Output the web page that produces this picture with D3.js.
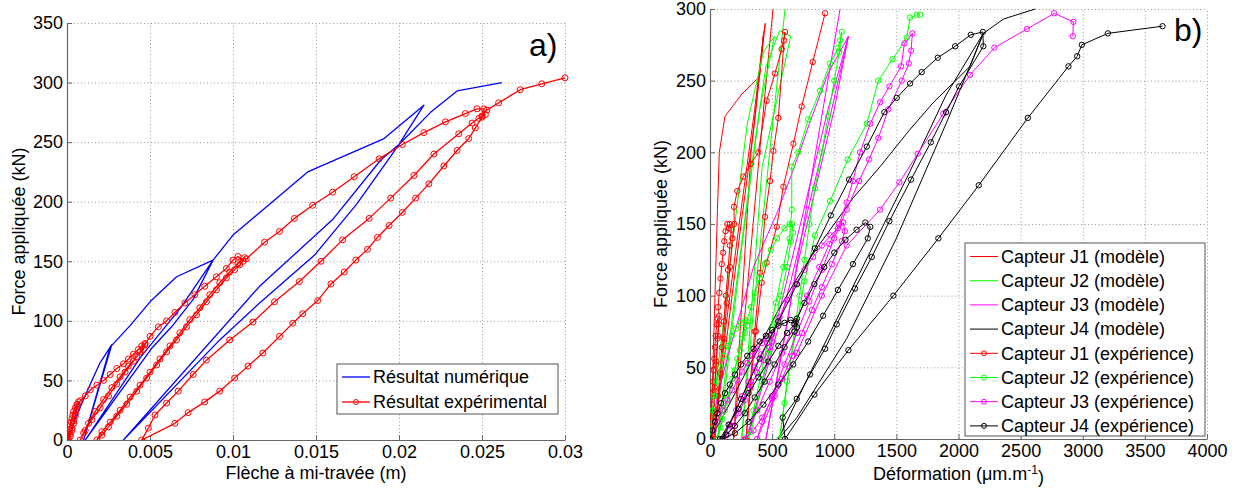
<!DOCTYPE html>
<html>
<head>
<meta charset="utf-8">
<script src="https://cdn.jsdelivr.net/npm/d3@7"></script>
<style>
  body { margin: 0; background: #fff; }
  text { font-family: Arial, "Liberation Sans", Helvetica, sans-serif; fill: #000; }
</style>
</head>
<body>
<svg id="chart" width="1237" height="490"></svg>
<script>
// ---------- panel a) : deflection at mid-span ----------
let aXTicks = [0, 0.005, 0.01, 0.015, 0.02, 0.025, 0.03]
let aYTicks = [0, 50, 100, 150, 200, 250, 300, 350]

// numerical result (blue)
let numerique = [[0,0],[0.0003,10],[0.0006,21],[0.0009,31],[0.0015,50],[0.002,65],[0.0027,80],
  [0.001,0],[0.0026,78],[0.0038,96],[0.005,116],[0.0066,137],[0.0088,151],
  [0.0076,118],[0.0063,95],[0.0051,77],[0.0011,0],[0.0044,69],[0.0068,110],[0.0088,151],
  [0.0100,172],[0.0145,225],[0.0191,253],[0.0215,281],
  [0.0199,246],[0.01745,198],[0.0149,155],[0.0116,115],[0.0092,84],[0.0034,0],
  [0.0116,129],[0.0160,185],[0.0189,235],[0.0200,248],[0.0219,275],[0.0235,293],[0.0262,300]]

// experimental result (red, circles)
let experimental = [[0,0],[0.00005,3],[0.0001,6],[0.00015,9],[0.0002,12],[0.00025,15],[0.0003,18],[0.00035,21],
  [0.0004,24],[0.0005,27],[0.0006,30],[0.0007,32],[0.0006,26],[0.0005,20],[0.0004,14],[0.0003,8],[0.0002,3],
  [0.0001,0],[0.0002,5],[0.0003,10],[0.0004,16],[0.0005,22],[0.0006,28],[0.0008,33],
  [0.0011,37],[0.0014,42],[0.0018,46],[0.0022,50],[0.0026,55],[0.003,60],[0.0034,64],[0.0037,68],
  [0.004,72],[0.0043,76],[0.0045,79],[0.0047,81],[0.0046,76],
  [0.0042,70],[0.0037,62],[0.0032,53],[0.0027,44],[0.0022,34],[0.0017,24],[0.0013,14],[0.001,6],[0.0008,0],
  [0.0011,8],[0.0015,17],[0.002,27],[0.0025,37],[0.003,47],[0.0035,57],[0.004,66],[0.0044,74],[0.0047,80],
  [0.0050,87],[0.0055,95],[0.0060,100],[0.0065,107],[0.0071,115],[0.0077,122],[0.0083,129],[0.0090,137],
  [0.0096,144],[0.0100,151],[0.0103,154],[0.0106,150],[0.0104,147],[0.0101,143],
  [0.0096,136],[0.0090,126],[0.0084,116],[0.0078,105],[0.0072,95],[0.0066,84],[0.0060,74],[0.0054,63],
  [0.0048,52],[0.0042,41],[0.0036,30],[0.0030,20],[0.0025,11],[0.0021,4],[0.0018,0],
  [0.0021,7],[0.0026,15],[0.0032,25],[0.0038,36],[0.0044,46],[0.0050,57],[0.0056,68],[0.0062,79],
  [0.0068,90],[0.0074,101],[0.0080,111],[0.0086,122],[0.0092,132],[0.0098,141],[0.0103,148],[0.0107,153],
  [0.0108,152],[0.0119,166],[0.0128,175],[0.0137,186],[0.0148,197],[0.0160,208],[0.0173,221],[0.0188,236],
  [0.0202,248],[0.0215,258],[0.0228,267],[0.0240,274],[0.0247,278],[0.0251,278],[0.0250,272],[0.0252,273],
  [0.0248,270],[0.0244,266],
  [0.0236,257],[0.0221,240],[0.0209,222],[0.0195,203],[0.0182,186],[0.0166,168],[0.0153,150],[0.0140,133],
  [0.0125,116],[0.0112,99],[0.0098,84],[0.0084,67],[0.0076,55],[0.0067,41],[0.0060,31],[0.0053,21],
  [0.0049,10],[0.0045,0],
  [0.0065,14],[0.0073,23],[0.0083,32],[0.0092,41],[0.0101,52],[0.0109,62],[0.0118,73],[0.0128,87],
  [0.0136,98],[0.0142,106],[0.0151,117],[0.0159,131],[0.0167,141],[0.0174,151],[0.0181,160],[0.0187,170],
  [0.0194,180],[0.0202,191],[0.0210,203],[0.0218,215],[0.0227,230],[0.0235,243],[0.0242,253],[0.0246,262],
  [0.0250,271],[0.0253,277],[0.0260,283],[0.0273,294],[0.0286,299],[0.0300,304]]

// ---------- panel b) : strain gauges ----------
let bXTicks = [0, 500, 1000, 1500, 2000, 2500, 3000, 3500, 4000]
let bYTicks = [0, 50, 100, 150, 200, 250, 300]

let j1Modele = [[0,0],[20,40],[40,100],[60,160],[75,200],[120,225],[250,240],[400,253],[430,282],
  [360,230],[250,160],[130,80],[30,0],[120,60],[250,150],[360,222],[430,282],[445,290],
  [330,200],[190,0],[300,105],[420,220],[507,300]]
let j2Modele = [[0,0],[50,40],[120,90],[200,150],[300,220],[430,270],[520,281],[400,230],[250,130],
  [100,20],[60,0],[200,100],[350,200],[450,260],[560,285],[650,281],[420,190],[255,0],[350,90],
  [480,200],[604,300]]
let j3Modele = [[0,0],[60,30],[150,60],[250,90],[350,120],[450,140],[550,160],[680,190],[800,220],
  [950,255],[1114,281],[900,200],[650,110],[400,30],[300,0],[450,50],[700,140],[950,230],[1114,281],
  [1000,230],[700,120],[450,0],[600,70],[850,200],[1047,300]]
let j4Modele = [[0,0],[100,15],[250,40],[400,65],[550,90],[700,112],[850,132],[1000,150],[1150,168],
  [1369,190],[1600,215],[1800,235],[2000,252],[2093,260],[2200,283],[1900,220],[1500,140],[1100,70],
  [700,15],[550,0],[800,45],[1200,115],[1600,185],[1900,240],[2200,283],[2362,293],[2617,300]]

let j1Experience = [[0,0],[5,8],[10,16],[15,24],[20,32],[25,40],[30,48],[35,56],[40,64],[45,72],[55,80],
  [62,84],[70,80],[60,70],[48,52],[36,34],[25,16],[15,0],[28,18],[40,36],[52,54],[64,72],[75,86],
  [65,92],[75,102],[85,112],[95,122],[105,130],[115,138],[125,145],[140,150],[150,147],[160,150],[172,146],
  [160,135],[145,118],[128,100],[112,82],[95,64],[80,46],[65,30],[50,15],[40,0],
  [60,20],[85,45],[110,70],[135,95],[160,120],[180,140],[195,150],[193,162],[220,173],[268,183],[330,192],
  [389,200],[456,236],[523,255],[577,272],[604,284],[596,278],
  [550,224],[510,201],[483,180],[443,155],[403,116],[360,75],[320,35],[290,0],
  [330,40],[370,75],[416,109],[456,123],[537,148],[590,176],[671,206],[738,232],[827,263],[926,297]]
let j2Experience = [[0,0],[10,10],[20,20],[35,30],[55,40],[80,50],[110,58],[140,65],[175,72],[210,77],
  [250,81],[285,83],[300,79],[280,74],[240,62],[200,48],[160,34],[120,20],[85,8],[60,0],
  [100,14],[140,28],[180,42],[220,56],[260,70],[295,82],
  [330,92],[360,102],[400,112],[440,122],[490,132],[540,140],[600,147],[640,150],[660,150],
  [670,144],[650,138],[620,120],[570,100],[520,80],[470,60],[420,40],[370,20],[330,5],[300,0],
  [350,20],[410,45],[470,70],[530,95],[590,120],[640,140],[658,160],[658,190],[711,200],[791,223],
  [886,243],[966,262],[1033,273],[1047,278],[1060,284],[1040,270],[1000,250],[950,225],[900,200],
  [845,175],[800,150],[760,125],[720,100],[680,75],[640,50],[600,25],[560,0],
  [620,40],[700,80],[760,110],[845,142],[966,166],[1109,195],[1262,220],[1355,250],[1470,265],
  [1584,280],[1610,294],[1664,296],[1691,296]]
let j3Experience = [[0,0],[30,6],[60,12],[100,20],[140,27],[180,34],[220,41],[260,47],[300,53],[340,58],
  [380,63],[420,67],[460,70],[490,72],[500,68],[480,64],
  [430,55],[380,46],[330,37],[280,27],[230,18],[180,9],[140,3],[110,0],
  [160,10],[210,20],[260,30],[310,40],[360,50],[410,59],[460,67],[500,73],
  [560,85],[620,97],[690,108],[760,118],[830,127],[900,135],[970,142],[1030,147],[1073,151],
  [1085,145],[1060,138],
  [980,122],[900,106],[820,90],[740,74],[660,58],[580,42],[500,28],[420,15],[350,6],[280,0],
  [380,20],[480,40],[580,60],[680,80],[780,100],[880,120],[960,136],[1040,150],[1100,165],[1150,180],
  [1208,200],[1290,220],[1370,235],[1444,246],[1538,260],[1565,276],[1629,283],[1618,271],[1600,262],
  [1543,250],[1436,230],[1355,210],[1280,195],[1200,180],[1100,160],[1000,140],[900,118],[800,96],
  [700,74],[600,52],[500,30],[420,12],[380,0],
  [520,30],[700,60],[900,100],[1100,135],[1369,160],[1524,179],[1672,199],[1878,227],[2093,254],
  [2289,273],[2550,286],[2770,297],[2925,291],[2920,281]]
let j4Experience = [[0,0],[20,6],[40,12],[60,18],[90,25],[120,32],[160,38],[200,45],[250,52],[300,58],
  [350,63],[400,68],[450,72],[500,76],[550,79],[600,81],[650,83],[690,82],[700,78],[680,75],
  [600,64],[520,52],[440,40],[360,29],[280,18],[200,9],[130,3],[80,0],
  [150,10],[230,21],[310,32],[390,43],[470,54],[550,65],[620,74],[680,80],[700,84],
  [760,95],[840,108],[920,120],[1000,130],[1090,139],[1180,146],[1250,151],[1290,148],[1270,140],
  [1150,122],[1030,104],[910,86],[790,68],[670,52],[550,38],[430,24],[310,12],[200,4],[100,0],
  [250,28],[400,56],[550,82],[700,108],[845,133],[972,156],[1119,181],[1262,204],[1403,228],[1503,238],
  [1610,248],[1704,256],[1833,266],[1973,274],[2099,282],[2196,284],
  [2200,274],[2005,246],[1900,228],[1777,207],[1618,181],[1444,152],[1302,127],[1167,105],[1020,80],
  [926,63],[805,45],[698,28],[585,15],[604,0],
  [840,31],[1114,62],[1476,100],[1838,140],[2163,177],[2558,224],[2885,260],[2955,267],[2993,275],
  [3202,283],[3642,288]]

let legendA = ["Résultat numérique", "Résultat expérimental"]
let legendB = ["Capteur J1 (modèle)", "Capteur J2 (modèle)", "Capteur J3 (modèle)", "Capteur J4 (modèle)",
  "Capteur J1 (expérience)", "Capteur J2 (expérience)", "Capteur J3 (expérience)", "Capteur J4 (expérience)"]

let svg = d3.select("#chart")
let fontSize = 18

// draw one panel: grid, axes, labels, series, legend
function drawPanel(p) {
    let x = d3.scaleLinear().domain(p.xDomain).range([p.left, p.right])
    let y = d3.scaleLinear().domain(p.yDomain).range([p.bottom, p.top])
    let g = svg.append("g")

    // dotted grid
    g.append("g")
        .attr("transform", "translate(0," + p.bottom + ")")
        .call(d3.axisBottom(x).tickValues(p.xTicks.slice(1)).tickSize(-(p.bottom - p.top)).tickFormat(""))
        .call(s => s.select(".domain").remove())
        .selectAll("line").attr("stroke", "#9a9a9a").attr("stroke-dasharray", "1,2.5")
    g.append("g")
        .attr("transform", "translate(" + p.left + ",0)")
        .call(d3.axisLeft(y).tickValues(p.yTicks.slice(1)).tickSize(-(p.right - p.left)).tickFormat(""))
        .call(s => s.select(".domain").remove())
        .selectAll("line").attr("stroke", "#9a9a9a").attr("stroke-dasharray", "1,2.5")

    // axes with inward ticks
    let xAxis = g.append("g")
        .attr("transform", "translate(0," + p.bottom + ")")
        .call(d3.axisBottom(x).tickValues(p.xTicks).tickSizeInner(-5).tickSizeOuter(0).tickPadding(5)
            .tickFormat(p.xFormat))
    let yAxis = g.append("g")
        .attr("transform", "translate(" + p.left + ",0)")
        .call(d3.axisLeft(y).tickValues(p.yTicks).tickSizeInner(-5).tickSizeOuter(0).tickPadding(4)
            .tickFormat(d => d))
    ;[xAxis, yAxis].forEach(a => {
        a.select(".domain").attr("stroke", "#666").attr("stroke-width", 1.2)
        a.selectAll(".tick line").attr("stroke", "#666")
        a.selectAll(".tick text").style("font-size", fontSize + "px").attr("fill", "#000")
            .style("font-family", "Arial, 'Liberation Sans', sans-serif")
    })

    // clip for data
    let clipId = "clip-" + p.name
    svg.append("clipPath").attr("id", clipId).append("rect")
        .attr("x", p.left).attr("y", p.top - 6).attr("width", p.right - p.left + 6).attr("height", p.bottom - p.top + 6)

    let line = d3.line().x(d => x(d[0])).y(d => y(d[1]))
    let data = g.append("g").attr("clip-path", "url(#" + clipId + ")")
    p.series.forEach(s => {
        data.append("path").datum(s.values)
            .attr("d", line)
            .attr("fill", "none")
            .attr("stroke", s.color)
            .attr("stroke-width", s.width)
            .attr("stroke-linejoin", "round")
        if (s.marker) {
            data.selectAll(null).data(s.values).enter()
                .append("circle")
                .attr("cx", d => x(d[0])).attr("cy", d => y(d[1]))
                .attr("r", p.markerR)
                .attr("fill", "none")
                .attr("stroke", s.color)
                .attr("stroke-width", 1)
        }
    })

    // axis titles
    g.append("text")
        .attr("x", (p.left + p.right) / 2).attr("y", p.xTitleY)
        .attr("text-anchor", "middle").style("font-size", fontSize + "px")
        .call(p.xTitle)
    g.append("text")
        .attr("transform", "translate(" + p.yTitleX + "," + ((p.top + p.bottom) / 2) + ") rotate(-90)")
        .attr("text-anchor", "middle").style("font-size", fontSize + "px")
        .text("Force appliquée (kN)")

    // panel tag
    g.append("text").attr("x", p.tagX).attr("y", p.tagY).style("font-size", "32px").text(p.tag)

    // legend
    let lg = g.append("g")
    lg.append("rect")
        .attr("x", p.legend.x).attr("y", p.legend.y).attr("width", p.legend.w).attr("height", p.legend.h)
        .attr("fill", "#fff").attr("stroke", "#555").attr("stroke-width", 1)
    p.series.filter(s => s.label).forEach((s, i) => {
        let ly = p.legend.y + p.legend.first + i * p.legend.step
        lg.append("line")
            .attr("x1", p.legend.x + 5).attr("x2", p.legend.x + 33)
            .attr("y1", ly).attr("y2", ly)
            .attr("stroke", s.color).attr("stroke-width", s.width)
        if (s.marker) {
            lg.append("circle").attr("cx", p.legend.x + 19).attr("cy", ly).attr("r", 2.5)
                .attr("fill", "none").attr("stroke", s.color).attr("stroke-width", 1)
        }
        lg.append("text")
            .attr("x", p.legend.x + 36).attr("y", ly).attr("dy", "0.35em")
            .style("font-size", fontSize + "px")
            .text(s.label)
    })
}

// panel a)
drawPanel({
    name: "a",
    left: 67, right: 565, top: 23, bottom: 440,
    xDomain: [0, 0.03], yDomain: [0, 350],
    xTicks: aXTicks, yTicks: aYTicks,
    xFormat: d => d,
    markerR: 3,
    xTitleY: 479, yTitleX: 25,
    xTitle: t => t.text("Flèche à mi-travée (m)"),
    tag: "a)", tagX: 529, tagY: 56,
    legend: {x: 337, y: 364, w: 221, h: 50, first: 13, step: 25},
    series: [
        {values: numerique, color: "#0000ff", width: 1.3, marker: false, label: legendA[0]},
        {values: experimental, color: "#ff0000", width: 1.3, marker: true, label: legendA[1]}
    ]
})

// panel b)
drawPanel({
    name: "b",
    left: 710, right: 1207, top: 9, bottom: 439,
    xDomain: [0, 4000], yDomain: [0, 300],
    xTicks: bXTicks, yTicks: bYTicks,
    xFormat: d => d,
    markerR: 2.7,
    xTitleY: 480, yTitleX: 667,
    xTitle: t => {
        t.append("tspan").text("Déformation (μm.m")
        t.append("tspan").attr("dy", "-0.5em").style("font-size", "12px").text("-1")
        t.append("tspan").attr("dy", "0.5em").text(")")
    },
    tag: "b)", tagX: 1174, tagY: 41,
    legend: {x: 965, y: 243, w: 240, h: 193, first: 13.5, step: 24.2},
    series: [
        {values: j1Modele, color: "#ff0000", width: 1, marker: false, label: legendB[0]},
        {values: j2Modele, color: "#00ff00", width: 1, marker: false, label: legendB[1]},
        {values: j3Modele, color: "#ff00ff", width: 1, marker: false, label: legendB[2]},
        {values: j4Modele, color: "#000000", width: 1, marker: false, label: legendB[3]},
        {values: j1Experience, color: "#ff0000", width: 1, marker: true, label: legendB[4]},
        {values: j2Experience, color: "#00ff00", width: 1, marker: true, label: legendB[5]},
        {values: j3Experience, color: "#ff00ff", width: 1, marker: true, label: legendB[6]},
        {values: j4Experience, color: "#000000", width: 1, marker: true, label: legendB[7]}
    ]
})
</script>
</body>
</html>
